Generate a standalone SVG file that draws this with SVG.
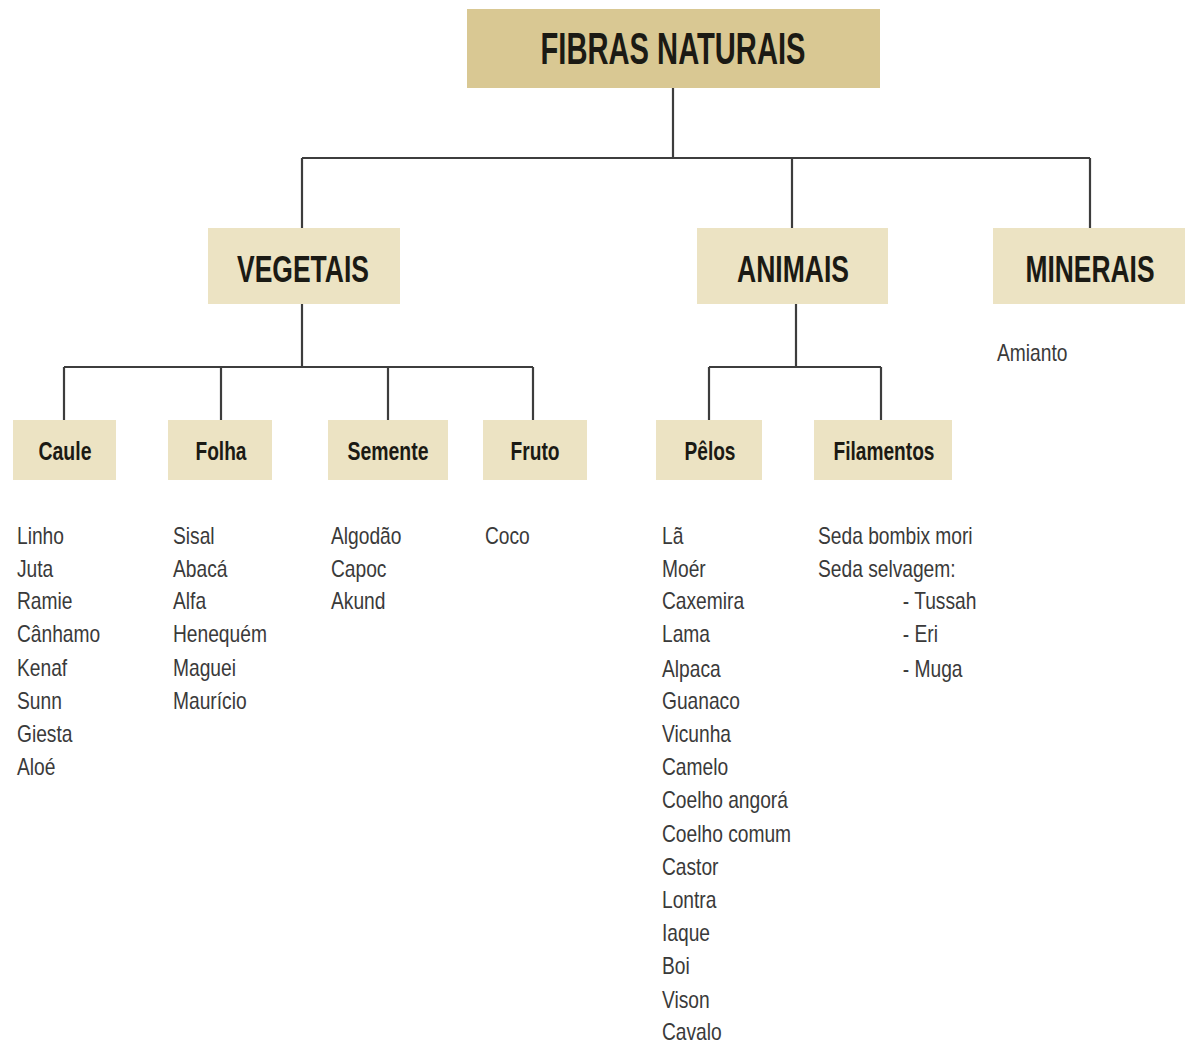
<svg xmlns="http://www.w3.org/2000/svg" width="1189" height="1045" viewBox="0 0 1189 1045">
<style>
.top{fill:#d9c893}
.box{fill:#ece3c3}
.h1{font-family:"Liberation Sans",Arial,sans-serif;font-weight:bold;fill:#1b1a14;text-anchor:middle}
.lst{font-family:"Liberation Sans",Arial,sans-serif;font-size:24px;fill:#3a3a3a}
.con{stroke:#3d3d3d;stroke-width:2.2;fill:none}
</style>
<rect width="1189" height="1045" fill="#ffffff"/>
<g id="connectors" class="con">
<path d="M673 88V158M302 158H1090M302 158V228M792 158V228M1090 158V228"/>
<path d="M302 304V367M64 367H533M64 367V420M221 367V420M388 367V420M533 367V420"/>
<path d="M796 304V367M709 367H881M709 367V420M881 367V420"/>
</g>
<g id="fibras-naturais"><rect class="top" x="467" y="9" width="413" height="79"/><text class="h1" x="673" y="64" font-size="44" textLength="265" lengthAdjust="spacingAndGlyphs">FIBRAS NATURAIS</text></g>
<g id="vegetais"><rect class="box" x="208" y="228" width="192" height="76"/><text class="h1" x="303" y="282" font-size="37" textLength="132" lengthAdjust="spacingAndGlyphs">VEGETAIS</text></g>
<g id="animais"><rect class="box" x="697" y="228" width="191" height="76"/><text class="h1" x="793" y="282" font-size="37" textLength="112" lengthAdjust="spacingAndGlyphs">ANIMAIS</text></g>
<g id="minerais"><rect class="box" x="993" y="228" width="192" height="76"/><text class="h1" transform="translate(1090,282) scale(0.713,1)" x="0" y="0" font-size="37">MINERAIS</text></g>
<g id="caule"><rect class="box" x="13" y="420" width="103" height="60"/><text class="h1" x="65" y="460" font-size="25" textLength="53" lengthAdjust="spacingAndGlyphs">Caule</text></g>
<g id="folha"><rect class="box" x="168" y="420" width="104" height="60"/><text class="h1" x="221" y="460" font-size="25" textLength="51" lengthAdjust="spacingAndGlyphs">Folha</text></g>
<g id="semente"><rect class="box" x="328" y="420" width="120" height="60"/><text class="h1" x="388" y="460" font-size="25" textLength="81" lengthAdjust="spacingAndGlyphs">Semente</text></g>
<g id="fruto"><rect class="box" x="483" y="420" width="104" height="60"/><text class="h1" x="535" y="460" font-size="25" textLength="49" lengthAdjust="spacingAndGlyphs">Fruto</text></g>
<g id="pelos"><rect class="box" x="656" y="420" width="106" height="60"/><text class="h1" x="710" y="460" font-size="25" textLength="51" lengthAdjust="spacingAndGlyphs">Pêlos</text></g>
<g id="filamentos"><rect class="box" x="814" y="420" width="138" height="60"/><text class="h1" x="884" y="460" font-size="25" textLength="101" lengthAdjust="spacingAndGlyphs">Filamentos</text></g>
<g id="list-caule" class="lst" transform="translate(17,0) scale(0.8,1)">
<text x="0" y="544">Linho</text><text x="0" y="577">Juta</text><text x="0" y="609">Ramie</text><text x="0" y="642">Cânhamo</text><text x="0" y="676">Kenaf</text><text x="0" y="709">Sunn</text><text x="0" y="742">Giesta</text><text x="0" y="775">Aloé</text>
</g>
<g id="list-folha" class="lst" transform="translate(173,0) scale(0.8,1)">
<text x="0" y="544">Sisal</text><text x="0" y="577">Abacá</text><text x="0" y="609">Alfa</text><text x="0" y="642">Henequém</text><text x="0" y="676">Maguei</text><text x="0" y="709">Maurício</text>
</g>
<g id="list-semente" class="lst" transform="translate(331,0) scale(0.8,1)">
<text x="0" y="544">Algodão</text><text x="0" y="577">Capoc</text><text x="0" y="609">Akund</text>
</g>
<g id="list-fruto" class="lst" transform="translate(485,0) scale(0.8,1)">
<text x="0" y="544">Coco</text>
</g>
<g id="list-pelos" class="lst" transform="translate(662,0) scale(0.8,1)">
<text x="0" y="544">Lã</text><text x="0" y="577">Moér</text><text x="0" y="609">Caxemira</text><text x="0" y="642">Lama</text><text x="0" y="677">Alpaca</text><text x="0" y="709">Guanaco</text><text x="0" y="742">Vicunha</text><text x="0" y="775">Camelo</text><text x="0" y="808">Coelho angorá</text><text x="0" y="842">Coelho comum</text><text x="0" y="875">Castor</text><text x="0" y="908">Lontra</text><text x="0" y="941">Iaque</text><text x="0" y="974">Boi</text><text x="0" y="1008">Vison</text><text x="0" y="1040">Cavalo</text>
</g>
<g id="list-filamentos" class="lst" transform="translate(818,0) scale(0.8,1)">
<text x="0" y="544">Seda bombix mori</text><text x="0" y="577">Seda selvagem:</text><text x="106" y="609">- Tussah</text><text x="106" y="642">- Eri</text><text x="106" y="677">- Muga</text>
</g>
<g id="list-minerais" class="lst" transform="translate(997,0) scale(0.8,1)">
<text x="0" y="361">Amianto</text>
</g>
</svg>
